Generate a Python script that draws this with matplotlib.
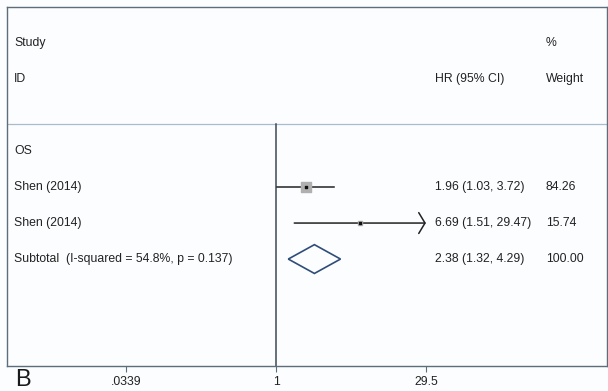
import matplotlib.pyplot as plt
import numpy as np
from matplotlib.patches import Polygon
from matplotlib.transforms import blended_transform_factory

plt.rcParams['font.family'] = ['Liberation Sans', 'DejaVu Sans']

# study rows of the forest plot
studies = ["Shen (2014)", "Shen (2014)"]
hr = [1.96, 6.69]
ci_low = [1.03, 1.51]
ci_high = [3.72, 29.47]
weights = [84.26, 15.74]

# pooled estimate
pooled_label = "Subtotal  (I-squared = 54.8%, p = 0.137)"
pooled_hr = 2.38
pooled_low = 1.32
pooled_high = 4.29
pooled_weight = 100.00

group_label = "OS"
tick_values = [0.0339, 1, 29.5]
tick_labels = [".0339", "1", "29.5"]

W, H = 608, 391
fig = plt.figure(figsize=(W / 100, H / 100), dpi=100, facecolor="#fcfdff")
# frame from x=7..607, y=7..366 px
ax = fig.add_axes([7 / W, (H - 366) / H, 600 / W, 359 / H], facecolor="#fcfdff")

# log scale: 1 at 269 px from the left edge, 44.3 px per ln unit
px_per = 44.3
ax.set_xscale("log")
ax.set_xlim(np.exp(-269 / px_per), np.exp(331 / px_per))
ax.set_ylim(8.97, -1)

text_color = "#222222"
fs = 8.8
tr = blended_transform_factory(ax.transAxes, ax.transData)
x_study, x_hr, x_wt = 0.0117, 0.713, 0.898

# header
ax.text(x_study, 0, "Study", transform=tr, fontsize=fs, color=text_color, va="center")
ax.text(x_study, 1, "ID", transform=tr, fontsize=fs, color=text_color, va="center")
ax.text(x_wt, 0, "%", transform=tr, fontsize=fs, color=text_color, va="center")
ax.text(x_hr, 1, "HR (95% CI)", transform=tr, fontsize=fs, color=text_color, va="center")
ax.text(x_wt, 1, "Weight", transform=tr, fontsize=fs, color=text_color, va="center")
ax.axhline(2.25, color="#a9bccb", lw=0.9)

# null line
ax.plot([1, 1], [2.25, 8.97], color="#3b4a56", lw=1.1)

ax.text(x_study, 3, group_label, transform=tr, fontsize=fs, color=text_color, va="center")

for i, (name, est, lo, hi, w) in enumerate(zip(studies, hr, ci_low, ci_high, weights)):
    y = 4 + i
    ax.text(x_study, y, name, transform=tr, fontsize=fs, color=text_color, va="center")
    ax.text(x_hr, y, f"{est:.2f} ({lo:.2f}, {hi:.2f})", transform=tr,
            fontsize=fs, color=text_color, va="center")
    ax.text(x_wt, y, f"{w:.2f}", transform=tr, fontsize=fs, color=text_color, va="center")
    if hi > 20:
        ax.annotate("", xy=(hi, y), xytext=(lo, y),
                    arrowprops=dict(arrowstyle="->,head_length=0.45,head_width=0.75",
                                    color="#222222", lw=1.1, shrinkA=0, shrinkB=0))
    else:
        ax.plot([lo, hi], [y, y], color="#222222", lw=1.1)
    ax.scatter([est], [y], marker="s", s=w * 0.62, color="#b0b0b0", zorder=3)
    ax.scatter([est], [y], marker="s", s=4, color="#111111", zorder=4)

# pooled diamond
yp = 6
ax.add_patch(Polygon([(pooled_low, yp), (pooled_hr, yp - 0.4),
                      (pooled_high, yp), (pooled_hr, yp + 0.4)],
                     closed=True, fill=False, edgecolor="#2f4d78", lw=1.2))
ax.text(x_study, yp, pooled_label, transform=tr, fontsize=fs, color=text_color, va="center")
ax.text(x_hr, yp, f"{pooled_hr:.2f} ({pooled_low:.2f}, {pooled_high:.2f})", transform=tr,
        fontsize=fs, color=text_color, va="center")
ax.text(x_wt, yp, f"{pooled_weight:.2f}", transform=tr, fontsize=fs, color=text_color, va="center")

# frame and axis ticks
for sp in ax.spines.values():
    sp.set_color("#5d6e7b")
    sp.set_linewidth(1.0)
ax.set_xticks(tick_values)
ax.set_xticklabels(tick_labels)
ax.minorticks_off()
ax.tick_params(axis="x", length=4, width=0.8, color="#5d6e7b", pad=3,
               labelsize=fs, labelcolor=text_color)
ax.set_yticks([])

fig.text(15 / W, (H - 386) / H, "B", fontsize=17, color="#1a1a1a", va="baseline")

fig.savefig("out.png", dpi=100, facecolor=fig.get_facecolor())
